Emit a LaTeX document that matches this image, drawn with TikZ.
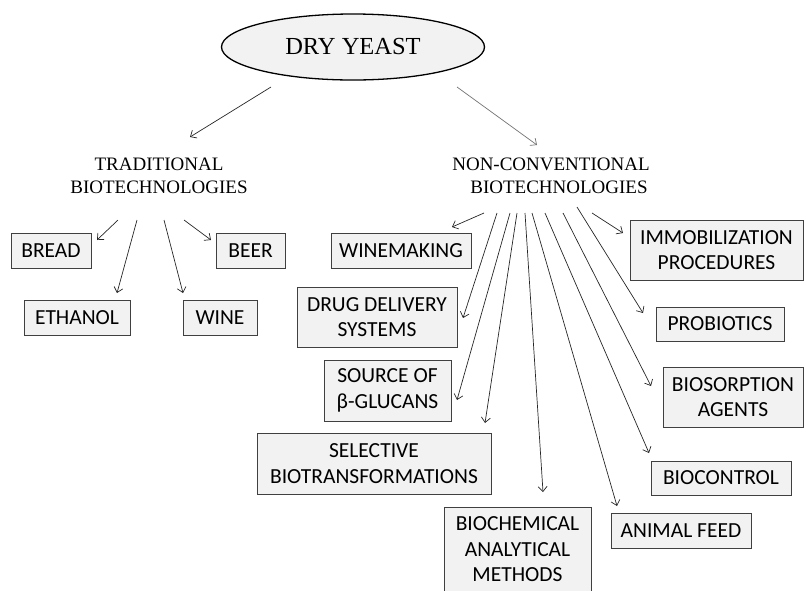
\documentclass[tikz,border=0pt]{standalone}
\usepackage{fontspec}
\setmainfont{Liberation Serif}
\newfontfamily\boxfont{Carlito}
\usetikzlibrary{arrows.meta,shapes.geometric}
\definecolor{boxfill}{HTML}{F2F2F2}
\definecolor{boxline}{HTML}{404040}
\tikzset{
  item/.style={draw=boxline, fill=boxfill, line width=0.8pt, inner sep=0pt,
    align=center, font=\boxfont\fontsize{21.5}{25.5}\selectfont},
  headtext/.style={align=center, font=\fontsize{19}{22.5}\selectfont},
  conn/.style={line width=0.7pt, draw=black!85, -{Straight Barb[length=5pt,width=9pt]}},
}
\begin{document}
\begin{tikzpicture}[x=1pt,y=-1pt]
\useasboundingbox (0,0) rectangle (805,590);
% root
\node[ellipse, draw=black, line width=1.3pt, fill=boxfill, minimum width=263pt, minimum height=66pt,
  inner sep=0pt, font=\fontsize{24.5}{28}\selectfont] (root) at (353,47) {DRY YEAST};
% headings
\node[headtext] (trad) at (159,176) {TRADITIONAL\\BIOTECHNOLOGIES};
\node[headtext] (nonc) at (551,176) {NON-CONVENTIONAL\\\hspace*{16pt}BIOTECHNOLOGIES};
% traditional boxes
\node[item, minimum width=80pt, minimum height=35pt] (bread) at (51,250.5) {BREAD};
\node[item, minimum width=69pt, minimum height=35pt] (beer) at (250.5,250.5) {BEER};
\node[item, minimum width=106pt, minimum height=35pt] (ethanol) at (77,317.5) {ETHANOL};
\node[item, minimum width=74pt, minimum height=35pt] (wine) at (220,317.5) {WINE};
% non-conventional boxes
\node[item, minimum width=140pt, minimum height=35pt] (winemaking) at (401,250.5) {WINEMAKING};
\node[item, minimum width=160pt, minimum height=60pt] (drug) at (377,317) {DRUG DELIVERY\\SYSTEMS};
\node[item, minimum width=127pt, minimum height=61pt] (source) at (387.5,390.5) {SOURCE OF\\β-GLUCANS};
\node[item, minimum width=234pt, minimum height=61pt] (selective) at (374,463.5) {SELECTIVE\\BIOTRANSFORMATIONS};
\node[item, minimum width=147pt, minimum height=85pt] (biochem) at (517.5,549.5) {BIOCHEMICAL\\ANALYTICAL\\METHODS};
\node[item, minimum width=140pt, minimum height=35pt] (feed) at (681,530.5) {ANIMAL FEED};
\node[item, minimum width=140pt, minimum height=34pt] (biocontrol) at (721,478) {BIOCONTROL};
\node[item, minimum width=140pt, minimum height=60pt] (biosorption) at (733,397) {BIOSORPTION\\AGENTS};
\node[item, minimum width=128pt, minimum height=34pt] (probiotics) at (720,324) {PROBIOTICS};
\node[item, minimum width=173pt, minimum height=60pt] (immob) at (716.5,250) {IMMOBILIZATION\\PROCEDURES};
% connector end points
\coordinate (r1) at (271,87);   \coordinate (t1) at (190,137);
\coordinate (r2) at (457,87);   \coordinate (t2) at (537,145);
\coordinate (a1) at (118,220);  \coordinate (b1) at (97,240);
\coordinate (a2) at (137,220);  \coordinate (b2) at (117,293);
\coordinate (a3) at (164,220);  \coordinate (b3) at (183,293);
\coordinate (a4) at (184,220);  \coordinate (b4) at (211,240);
\coordinate (c1) at (484,213);  \coordinate (d1) at (452,227);
\coordinate (c2) at (497,213);  \coordinate (d2) at (463,318);
\coordinate (c3) at (510,213);  \coordinate (d3) at (457,400);
\coordinate (c4) at (517,213);  \coordinate (d4) at (485,423);
\coordinate (c5) at (525,213);  \coordinate (d5) at (543,492);
\coordinate (c6) at (532,213);  \coordinate (d6) at (617,506);
\coordinate (c7) at (545,213);  \coordinate (d7) at (649,453);
\coordinate (c8) at (563,213);  \coordinate (d8) at (651,386);
\coordinate (c9) at (577,207);  \coordinate (d9) at (643,313);
\coordinate (c10) at (592,213); \coordinate (d10) at (623,233);
% connectors
\draw[conn] (r1) -- (t1);
\draw[conn, draw=black!55] (r2) -- (t2);
\draw[conn] (a1) -- (b1);
\draw[conn] (a2) -- (b2);
\draw[conn] (a3) -- (b3);
\draw[conn] (a4) -- (b4);
\draw[conn] (c1) -- (d1);
\draw[conn] (c2) -- (d2);
\draw[conn] (c3) -- (d3);
\draw[conn] (c4) -- (d4);
\draw[conn] (c5) -- (d5);
\draw[conn] (c6) -- (d6);
\draw[conn] (c7) -- (d7);
\draw[conn] (c8) -- (d8);
\draw[conn] (c9) -- (d9);
\draw[conn] (c10) -- (d10);
\end{tikzpicture}
\end{document}
